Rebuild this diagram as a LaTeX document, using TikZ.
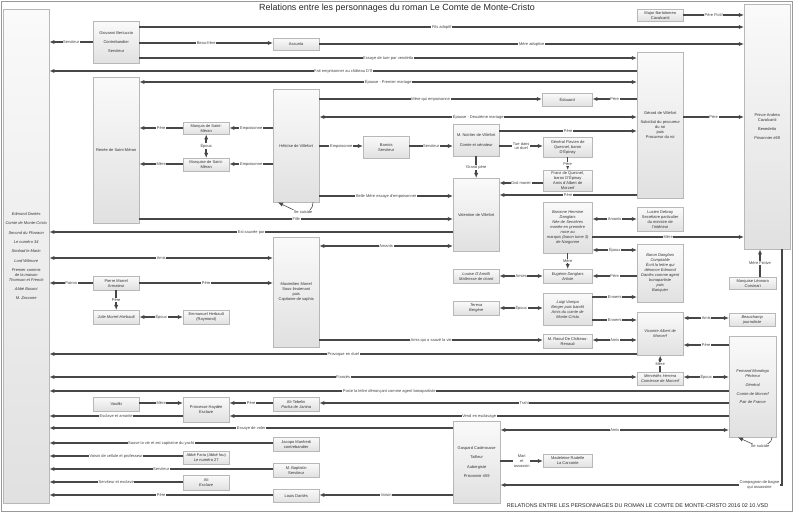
\documentclass[tikz,border=0pt]{standalone}
\usepackage{fontspec}
\setmainfont{Liberation Sans}
\usetikzlibrary{arrows.meta,shadows}
\newcommand\mkbox[6]{\node[box, anchor=north west, minimum width={(#4-#2)*0.75pt}, minimum height={(#5-#3)*0.75pt}] (#1) at (#2,#3) {#6};}
\newcommand\hl[5]{\draw[conn,#5] (#1 |- 0,#3) -- node[lbl]{#4} (#2 |- 0,#3);}
\begin{document}
\begin{tikzpicture}[x=0.75pt,y=-0.75pt,
  box/.style={draw=black!28, line width=0.3pt, top color=black!2, bottom color=black!12, align=center, inner sep=0.4pt,
    font=\fontsize{3}{3.7}\selectfont, text=black!80,
    drop shadow={shadow xshift=0.3pt, shadow yshift=-0.7pt, fill=black!40, opacity=0.7}},
  conn/.style={draw=black!72, line width=1.15pt},
  thinconn/.style={draw=black!70, line width=0.45pt},
  ar/.style={-{Latex[length=3.8pt,width=3.2pt]}},
  dar/.style={{Latex[length=3.8pt,width=3.2pt]}-{Latex[length=3.8pt,width=3.2pt]}},
  lbl/.style={fill=white, inner sep=0.5pt, align=center, font=\fontsize{3}{3.5}\selectfont, text=black!75},
]
\useasboundingbox (0,0) rectangle (793,513);
\draw[black!40, line width=0.6pt] (1,1) rectangle (792,511);
\node[font=\fontsize{6.7}{8}\selectfont, text=black!85] (title) at (397,8) {Relations entre les personnages du roman Le Comte de Monte-Cristo};
\node[anchor=east, font=\fontsize{4.1}{5}\selectfont, text=black!85] (footer) at (773,506) {RELATIONS ENTRE LES PERSONNAGES DU ROMAN LE COMTE DE MONTE-CRISTO 2016 02 10.VSD};

% ---- boxes ----
\mkbox{dantes}{3}{9}{49}{503}{\itshape Edmond Dantès\\[3.3pt]\itshape Comte de Monte-Cristo\\[3.3pt]\itshape Second du Pharaon\\[3.3pt]\itshape Le numéro 34\\[3.3pt]\itshape Simbad le Marin\\[3.3pt]\itshape Lord Wilmore\\[3.3pt]\itshape Premier commis\\\itshape de la maison\\\itshape Thomson et French\\[3.3pt]\itshape Abbé Busoni\\[3.3pt]\itshape M. Zaccone}
\mkbox{andrea}{744}{4}{790}{249}{Prince Andrea\\Cavalcanti\\[3pt]Benedetto\\[3pt]Prisonnier \#69}
\mkbox{major}{637}{9}{683}{21}{Major Bartolomeo\\Cavalcanti}
\mkbox{bert}{93}{21}{139}{63}{Giovanni Bertuccio\\[3.3pt]Contrebandier\\[3.3pt]Serviteur}
\mkbox{assunta}{273}{38}{319}{50}{Assunta}
\mkbox{renee}{93}{77}{139}{223}{Renée de Saint-Méran}
\mkbox{edouard}{542}{93}{592}{106}{Édouard}
\mkbox{villefort}{637}{52}{683}{198}{Gérard de Villefort\\[3pt]Substitut du procureur\\du roi\\puis\\Procureur du roi}
\mkbox{heloise}{273}{89}{319}{202}{Héloïse de Villefort}
\mkbox{marquis}{183}{122}{229}{134}{Marquis de Saint-\\Méran}
\mkbox{marquise}{183}{158}{229}{171}{Marquise de Saint-\\Méran}
\mkbox{barrois}{363}{136}{409}{158}{Barrois\\Serviteur}
\mkbox{noirtier}{453}{124}{499}{156}{M. Noirtier de Villefort\\[3.3pt]Comte et sénateur}
\mkbox{general}{543}{137}{592}{157}{Général Flavien de\\Quesnel, baron\\D'Épinay}
\mkbox{franz}{543}{170}{592}{191}{Franz de Quesnel,\\baron D'Épinay\\Amis d'Albert de\\Morcerf}
\mkbox{valentine}{453}{178}{499}{251}{Valentine de Villefort}
\mkbox{lucien}{637}{207}{683}{231}{Lucien Debray\\Secrétaire particulier\\du ministre de\\l'intérieur}
\mkbox{baronne}{543}{202}{592}{253}{\itshape Baronne Hermine\\\itshape Danglars\\\itshape Née de Servières\\\itshape mariée en première\\\itshape noce au\\\itshape marquis (baron tome 3)\\\itshape de Nargonne}
\mkbox{barond}{637}{244}{683}{302}{\itshape Baron Danglars\\\itshape Comptable\\\itshape Écrit la lettre qui\\\itshape dénonce Edmond\\\itshape Dantès comme agent\\\itshape bonapartiste\\\itshape puis\\\itshape Banquier}
\mkbox{leonora}{729}{277}{776}{289}{Marquise Léonora\\Corsinari}
\mkbox{maxim}{273}{237}{319}{347}{Maximilien Morrel\\Sous-lieutenant\\puis\\Capitaine de saphis}
\mkbox{pierre}{93}{276}{139}{290}{Pierre Morrel\\Armateur}
\mkbox{julie}{93}{310}{139}{324}{\itshape Julie Morrel-Herbault}
\mkbox{emmanuel}{183}{310}{229}{324}{Emmanuel Herbault\\(Raymond)}
\mkbox{louise}{453}{269}{499}{283}{\itshape Louise D'Armilli\\\itshape Maîtresse de chant}
\mkbox{eugenie}{543}{269}{592}{283}{\itshape Eugénie Danglars\\\itshape Artiste}
\mkbox{teresa}{453}{301}{499}{315}{\itshape Teresa\\\itshape Bergère}
\mkbox{luigi}{543}{293}{592}{325}{\itshape Luigi Vampa\\\itshape Berger puis bandit\\\itshape Amis du comte de\\\itshape Monte-Cristo}
\mkbox{raoul}{543}{334}{592}{348}{M. Raoul De Château-\\Renaud}
\mkbox{albert}{637}{312}{683}{355}{\itshape Vicomte Albert de\\\itshape Morcerf}
\mkbox{beauchamp}{729}{313}{775}{326}{\itshape Beauchamp\\\itshape journaliste}
\mkbox{fernand}{729}{336}{776}{437}{\itshape Fernand Mondego\\\itshape Pêcheur\\[3pt]\itshape Général\\[3pt]\itshape Comte de Morcerf\\[3pt]\itshape Pair de France}
\mkbox{mercedes}{637}{372}{683}{385}{\itshape Mercédès Herrera\\\itshape Comtesse de Morcerf}
\mkbox{vasilki}{93}{397}{139}{411}{Vasilki}
\mkbox{haydee}{183}{397}{229}{422}{Princesse Haydée\\Esclave}
\mkbox{alit}{273}{397}{319}{411}{Ali-Tebelin\\\itshape Pacha de Janina}
\mkbox{jacopo}{273}{437}{319}{451}{Jacopo Manfredi\\contrebandier}
\mkbox{faria}{183}{451}{229}{464}{Abbé Faria (Abbé fou)\\Le numéro 27}
\mkbox{baptistin}{273}{463}{319}{477}{M. Baptistin\\Serviteur}
\mkbox{ali}{183}{475}{229}{490}{Ali\\\itshape Esclave}
\mkbox{louis}{273}{489}{319}{502}{Louis Dantès}
\mkbox{caderousse}{453}{421}{500}{503}{Gaspard Caderousse\\[3.3pt]Tailleur\\[3.3pt]Aubergiste\\[3.3pt]Prisonnier \#59}
\mkbox{madeleine}{543}{454}{592}{467}{Madeleine Radelle\\La Carconte}

% ---- connectors ----
\hl{major.east}{andrea.west}{15}{Père Fictif}{ar}
\hl{bert.west}{dantes.east}{42}{Serviteur}{ar}
\hl{bert.east}{andrea.west}{27}{Fils adoptif}{ar}
\hl{bert.east}{assunta.west}{43}{Beau-frère}{ar}
\hl{assunta.east}{andrea.west}{44}{Mère adoptive}{ar}
\hl{bert.east}{villefort.west}{58}{Essaye de tuer par vendetta}{ar}
\hl{villefort.west}{dantes.east}{71}{Fait emprisonner au château D'If}{ar}
\hl{renee.east}{villefort.west}{82}{Épouse - Premier mariage}{dar}
\hl{heloise.east}{edouard.west}{99}{Mère qui empoisonne}{ar}
\hl{villefort.west}{edouard.east}{99}{Père}{ar}
\hl{heloise.east}{villefort.west}{117}{Épouse - Deuxième mariage}{dar}
\hl{villefort.east}{andrea.west}{117}{Père}{ar}
\hl{noirtier.east}{villefort.west}{131}{Père}{ar}
\hl{heloise.west}{marquis.east}{128}{Empoisonne}{ar}
\hl{heloise.west}{marquise.east}{164}{Empoisonne}{ar}
\hl{marquis.west}{renee.east}{128}{Père}{ar}
\hl{marquise.west}{renee.east}{164}{Mère}{ar}
\draw[conn,dar] (marquis.south) -- node[lbl]{Époux} (marquise.north);
\hl{heloise.east}{barrois.west}{146}{Empoisonne}{ar}
\hl{barrois.east}{noirtier.west}{146}{Serviteur}{ar}
\hl{noirtier.east}{general.west}{146}{Tue dans\\un duel}{ar}
\draw[conn,ar] (general.south) -- node[lbl]{Père} (franz.north);
\draw[conn,ar] (noirtier.south) -- node[lbl]{Grand père} (valentine.north);
\hl{franz.west}{valentine.east}{183}{Doit marier}{ar}
\hl{villefort.west}{valentine.east}{195}{Père}{ar}
\hl{heloise.east}{valentine.west}{196}{Belle Mère essaye d'empoisonner}{ar}
\draw[thinconn,ar] (heloise.south -| 313,0) .. controls (313,209) and (309,213) .. (300,213) -- (heloise.south -| 278,0);
\node[lbl] (hsuic) at (303,212) {Se suicide};
\hl{renee.east}{valentine.west}{219}{Fille}{ar}
\hl{valentine.west}{dantes.east}{232}{Est sauvée par}{ar}
\hl{maxim.east}{valentine.west}{246}{Amants}{dar}
\hl{dantes.east}{maxim.west}{258}{Amis}{dar}
\hl{pierre.west}{dantes.east}{283}{Patron}{ar}
\hl{pierre.east}{maxim.west}{283}{Père}{ar}
\draw[conn,ar] (pierre.south) -- node[lbl]{Père} (julie.north);
\hl{julie.east}{emmanuel.west}{317}{Époux}{dar}
\hl{lucien.west}{baronne.east}{219}{Amants}{dar}
\hl{baronne.east}{andrea.west}{237}{Mère}{ar}
\hl{baronne.east}{barond.west}{250}{Époux}{dar}
\draw[conn,ar] (baronne.south) -- node[lbl]{Mère} (eugenie.north);
\hl{louise.east}{eugenie.west}{276}{Amies}{dar}
\hl{barond.west}{eugenie.east}{276}{Père}{ar}
\draw[conn,ar] (leonora.north -| 760,0) -- node[lbl]{Mère Fictive} (andrea.south -| 760,0);
\hl{luigi.east}{barond.west}{297}{Ennemi}{ar}
\hl{teresa.east}{luigi.west}{308}{Époux}{dar}
\hl{luigi.east}{albert.west}{320}{Ennemi}{ar}
\hl{albert.east}{beauchamp.west}{318}{Amis}{dar}
\hl{raoul.east}{albert.west}{340}{Amis}{dar}
\hl{maxim.east}{raoul.west}{340}{Amis qui a sauvé la vie}{ar}
\hl{fernand.west}{albert.east}{345}{Père}{ar}
\draw[conn,ar] (mercedes.north) -- node[lbl]{Mère} (albert.south);
\hl{mercedes.east}{fernand.west}{377}{Époux}{dar}
\hl{dantes.east}{mercedes.west}{377}{Fiancés}{dar}
\hl{albert.west}{dantes.east}{354}{Provoque en duel}{ar}
\hl{fernand.west}{dantes.east}{391}{Poste la lettre dénonçant comme agent bonapartiste}{ar}
\hl{fernand.west}{alit.east}{403}{Trahi}{ar}
\hl{alit.west}{haydee.east}{403}{Père}{ar}
\hl{vasilki.east}{haydee.west}{403}{Mère}{ar}
\hl{haydee.west}{dantes.east}{416}{Esclave et amante}{ar}
\hl{fernand.west}{haydee.east}{416}{Vend en esclavage}{ar}
\hl{caderousse.west}{dantes.east}{428}{Essaye de voler}{ar}
\hl{caderousse.east}{fernand.west}{430}{Amis}{dar}
\hl{jacopo.west}{dantes.east}{443}{Sauve la vie et est capitaine du yacht}{ar}
\hl{faria.west}{dantes.east}{456}{Voisin de cellule et professeur}{ar}
\hl{baptistin.west}{dantes.east}{469}{Serviteur}{ar}
\hl{ali.west}{dantes.east}{482}{Serviteur et esclave}{ar}
\hl{louis.west}{dantes.east}{495}{Père}{ar}
\hl{caderousse.west}{louis.east}{495}{Voisin}{ar}
\hl{caderousse.east}{madeleine.west}{461}{Mari\\et\\assassin}{ar}
\draw[conn,ar] (andrea.south -| 782,0) |- node[lbl, pos=0.54]{Compagnon de bagne\\qui assassine} (caderousse.east |- 0,485);
\draw[thinconn,ar] (fernand.south -| 772,0) .. controls (772,443) and (766,446) .. (757,446) -- (fernand.south -| 738,0);
\node[lbl] (fsuic) at (760,446) {Se suicide};
\end{tikzpicture}
\end{document}
